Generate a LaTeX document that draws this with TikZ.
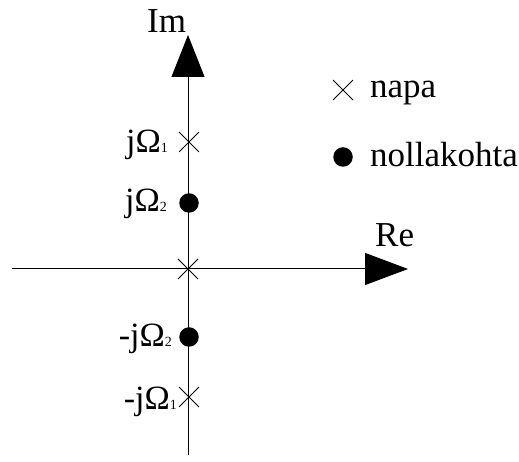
\documentclass[tikz,border=0pt]{standalone}
\usepackage{fontspec}
\setmainfont{Liberation Serif}
\usetikzlibrary{arrows.meta,shapes.misc}
\newcommand{\bigtxt}{\fontsize{35}{40}\selectfont}
\newcommand{\midtxt}{\fontsize{34}{38}\selectfont}
\newcommand{\subtxt}[1]{{\fontsize{14}{14}\selectfont #1}}
\begin{document}
\begin{tikzpicture}[x=1pt,y=1pt,
  axis/.style={line width=1pt},
  pole/.style={cross out,draw,line width=0.9pt,inner sep=0pt,minimum size=19pt},
  zero/.style={circle,fill,inner sep=0pt,minimum size=19.5pt},
  lbl/.style={inner sep=0pt,anchor=base east},
  txt/.style={inner sep=0pt,anchor=base west}]
\useasboundingbox (0,0) rectangle (519,462);
\coordinate (vbot) at (188,7);
\coordinate (vtop) at (188,427);
\coordinate (hleft) at (12,193);
\coordinate (hright) at (408,193);
\draw[axis,-{Triangle[length=42pt,width=33pt]}] (vbot) -- (vtop);
\draw[axis,-{Triangle[length=43pt,width=32pt]}] (hleft) -- (hright);
\node[pole] (o) at (188,193) {};
\node[pole] (p1) at (189,320) {};
\node[zero] (z1) at (189,259) {};
\node[zero] (z2) at (189,125) {};
\node[pole] (p2) at (189,65) {};
\node[lbl] (lp1) at (168,309) {\midtxt jΩ\subtxt{1}};
\node[lbl] (lz1) at (167,250) {\midtxt jΩ\subtxt{2}};
\node[lbl] (lz2) at (172,115) {\midtxt -jΩ\subtxt{2}};
\node[lbl] (lp2) at (177,52) {\midtxt -jΩ\subtxt{1}};
\node[txt] (im) at (147,429) {\bigtxt Im};
\node[txt] (re) at (375,215) {\bigtxt Re};
\node[pole] (legp) at (343,372) {};
\node[txt] (legpt) at (370,364) {\bigtxt napa};
\node[zero] (legz) at (343,305) {};
\node[txt] (legzt) at (370,295) {\bigtxt nollakohta};
\end{tikzpicture}
\end{document}
